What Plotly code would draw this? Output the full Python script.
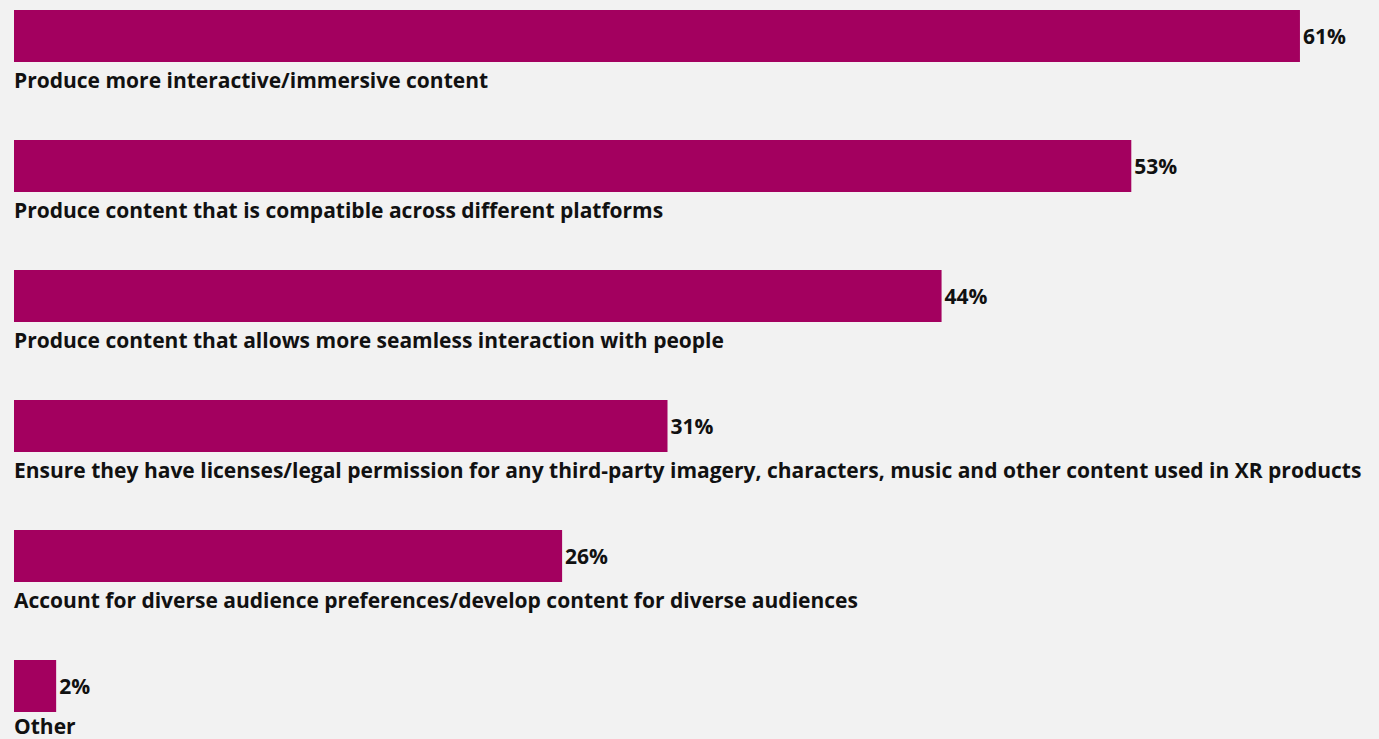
import plotly.graph_objects as go

# Survey responses: share of respondents selecting each priority
categories = [
    "Produce more interactive/immersive content",
    "Produce content that is compatible across different platforms",
    "Produce content that allows more seamless interaction with people",
    "Ensure they have licenses/legal permission for any third-party imagery, characters, music and other content used in XR products",
    "Account for diverse audience preferences/develop content for diverse audiences",
    "Other",
]
values = [61, 53, 44, 31, 26, 2]

BAR_COLOR = "#a3005f"
BG = "#f2f2f2"
FONT = "Open Sans"
TEXT_COLOR = "#111111"

positions = list(range(len(categories)))

fig = go.Figure(
    go.Bar(
        x=values,
        y=positions,
        orientation="h",
        width=0.4,
        marker=dict(color=BAR_COLOR, line=dict(width=0)),
        text=[f"{v}%" for v in values],
        textposition="outside",
        constraintext="none",
        cliponaxis=False,
        textfont=dict(family=FONT, size=21, color=TEXT_COLOR, weight="bold"),
        hoverinfo="skip",
    )
)

# Category captions sit just beneath each bar
for pos, label in zip(positions, categories):
    fig.add_annotation(
        x=0, y=pos + 0.338, xref="x", yref="y",
        text=label, showarrow=False,
        xanchor="left", yanchor="middle", xshift=-2,
        yshift=4 if pos == positions[-1] else 0,
        font=dict(family=FONT, size=21, color=TEXT_COLOR, weight="bold"),
    )

fig.update_layout(
    width=1379, height=739,
    margin=dict(l=14, r=0, t=0, b=0),
    paper_bgcolor=BG, plot_bgcolor=BG,
    showlegend=False,
    xaxis=dict(range=[0, 64.75], visible=False, fixedrange=True),
    yaxis=dict(range=[5.408, -0.277], visible=False, fixedrange=True),
)

fig.write_html("out.html")
